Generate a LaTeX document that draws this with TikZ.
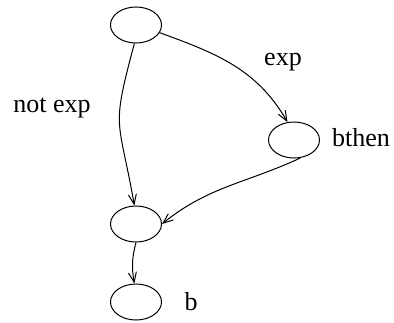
\documentclass[tikz,border=0pt]{standalone}
\usepackage{fontspec}
\setmainfont{Liberation Serif}
\usetikzlibrary{shapes.geometric,arrows.meta}
\begin{document}
\begin{tikzpicture}[>={Straight Barb[length=5pt,width=4pt]}, x=.5pt, y=.5pt, line width=.5pt,
  state/.style={draw, ellipse, inner sep=0, minimum width=25.5pt, minimum height=18pt},
  lbl/.style={font=\fontsize{13}{15}\selectfont, inner sep=0}]
\useasboundingbox(0,0)rectangle(394,322);
\node[state](top) at (136,297){};
\node[state](bthen) at (294,182){};
\node[state](join) at (136,98){};
\node[state](b) at (136,20){};
\node[lbl](expl) at (283,260){exp};
\node[lbl](notexpl) at (52,214){not exp};
\node[lbl](bthenl) at (361,184){bthen};
\node[lbl](bl) at (191,20){b};
\draw[->](top.-18)to[out=-20, in=120](bthen.110);
\draw[->](top.-95)to[out=-105, in=100, looseness=1.45](join.95);
\draw[->](bthen.-70)to[out=205, in=39](join.east);
\draw[->](join.-90)to[out=-105, in=100](b.95);

\end{tikzpicture}
\end{document}
